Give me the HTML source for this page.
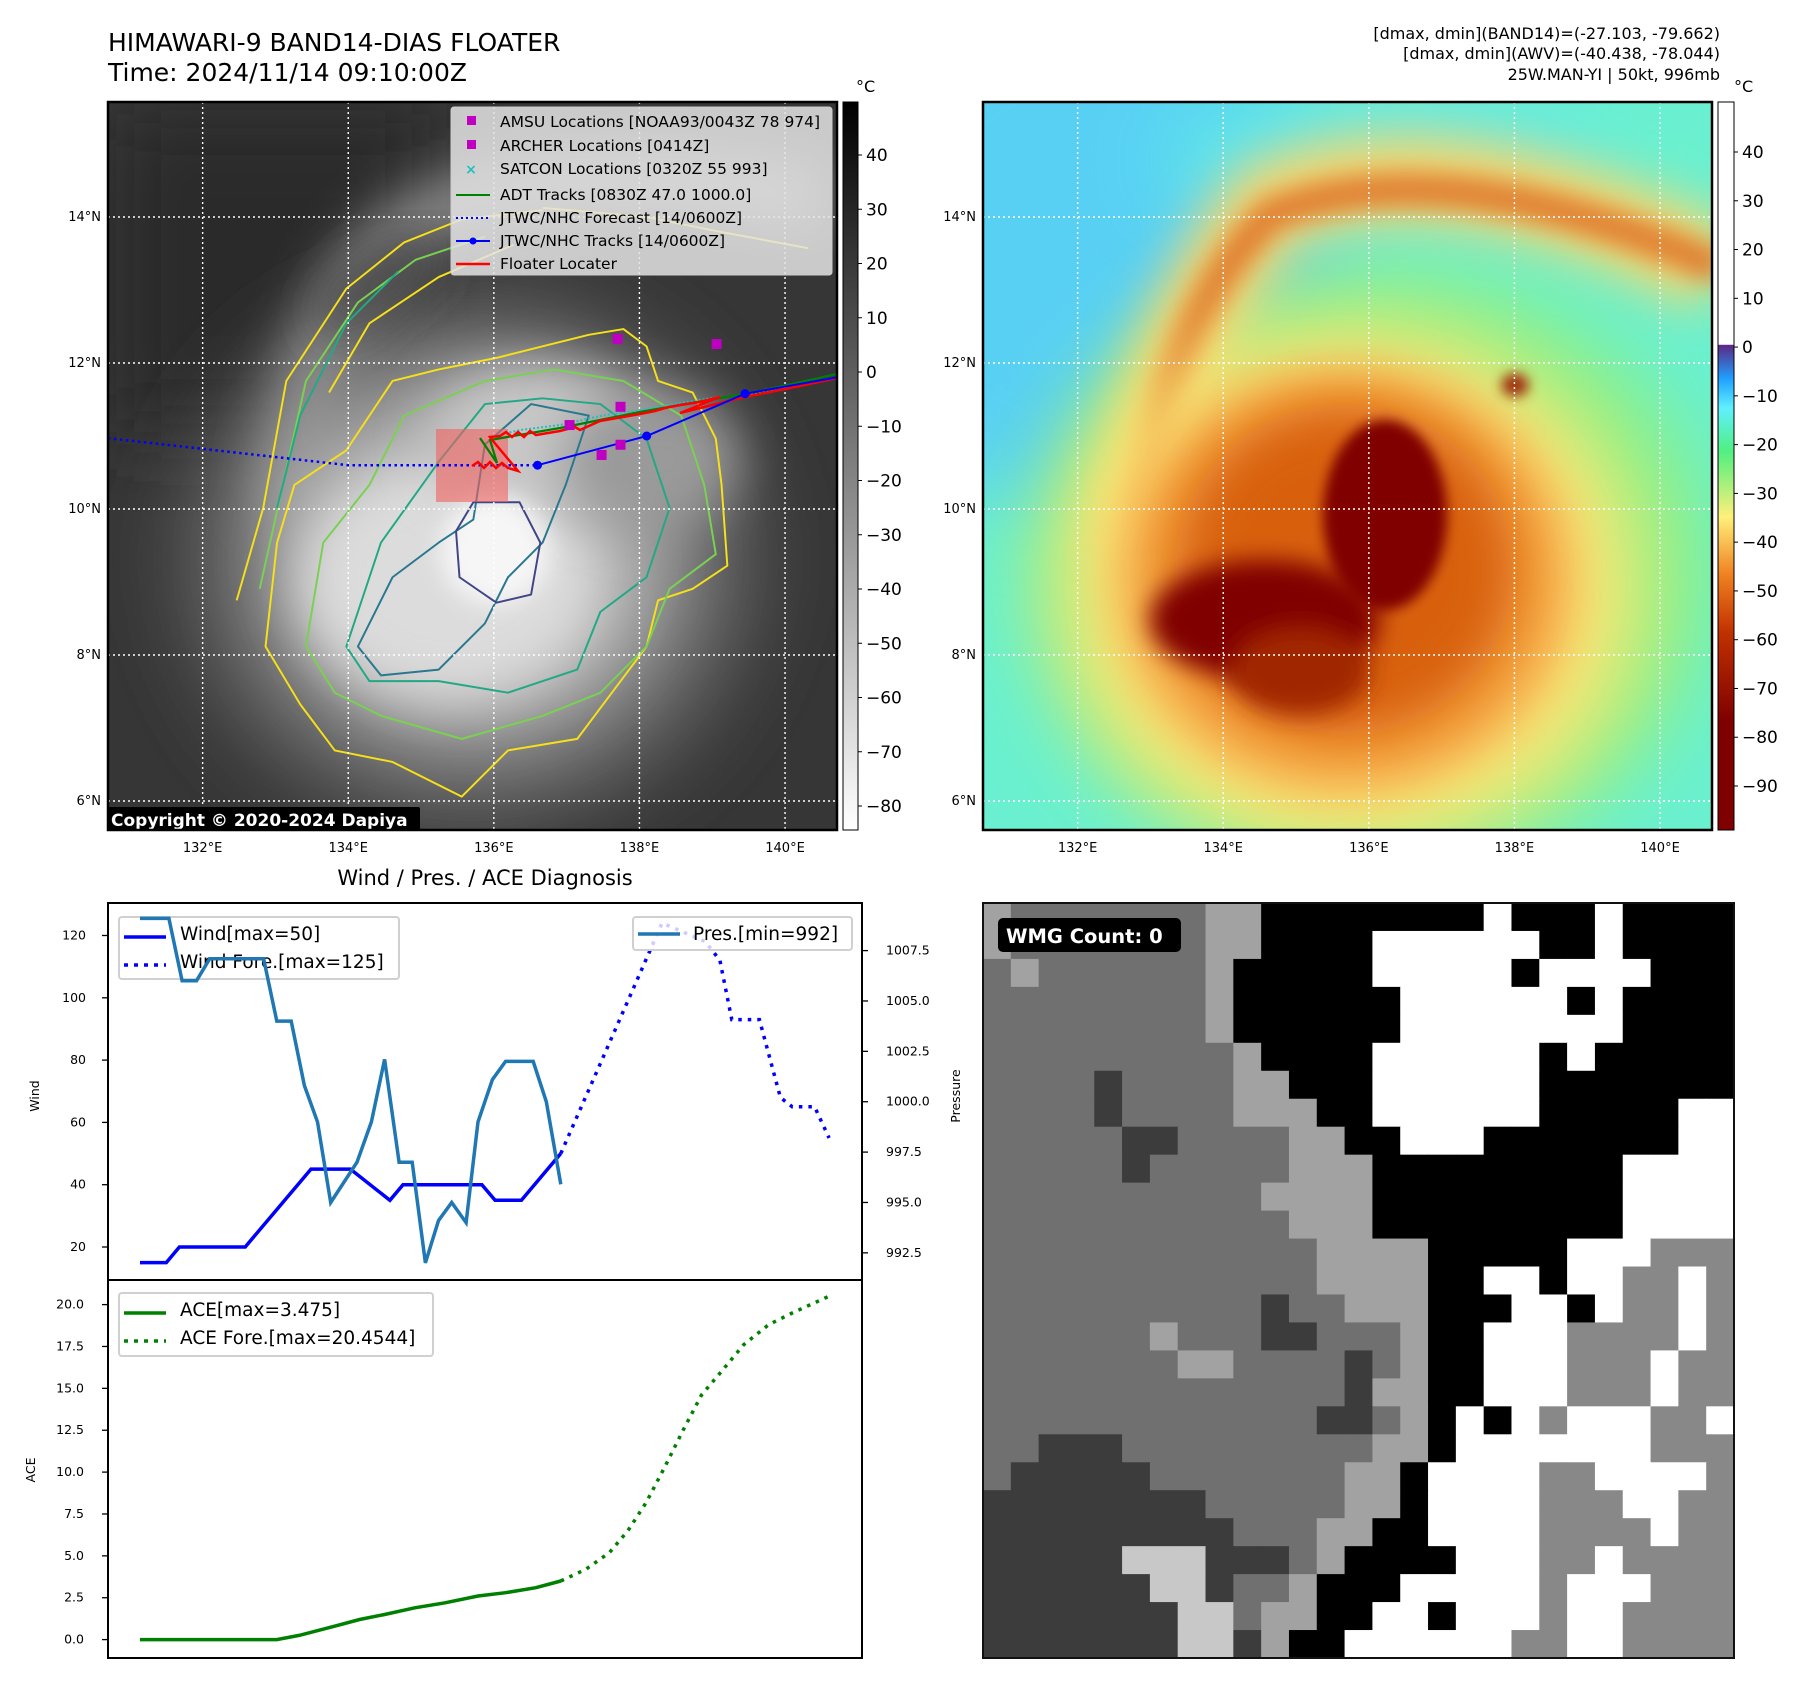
<!DOCTYPE html>
<html><head><meta charset="utf-8">
<style>
html,body{margin:0;padding:0;background:#fff;}
svg text{font-family:"DejaVu Sans","Liberation Sans",sans-serif;}
</style></head>
<body>
<svg id="root" width="1801" height="1690" viewBox="0 0 1801 1690" xmlns="http://www.w3.org/2000/svg">
<defs>
  <filter id="b40" x="-50%" y="-50%" width="200%" height="200%"><feGaussianBlur stdDeviation="40"/></filter>
  <filter id="b25" x="-50%" y="-50%" width="200%" height="200%"><feGaussianBlur stdDeviation="25"/></filter>
  <filter id="b12" x="-50%" y="-50%" width="200%" height="200%"><feGaussianBlur stdDeviation="12"/></filter>
  <filter id="b6" x="-50%" y="-50%" width="200%" height="200%"><feGaussianBlur stdDeviation="6"/></filter>
  <clipPath id="clipL"><rect x="108" y="102" width="729" height="728"/></clipPath>
  <clipPath id="clipR"><rect x="983" y="102" width="729" height="728"/></clipPath>
  <linearGradient id="cbGray" x1="0" y1="1" x2="0" y2="0">
    <stop offset="0" stop-color="#ffffff"/><stop offset="1" stop-color="#000000"/>
  </linearGradient>
  <linearGradient id="cbColor" x1="0" y1="1" x2="0" y2="0">
    <stop offset="0" stop-color="#800000"/>
    <stop offset="0.15" stop-color="#800000"/>
    <stop offset="0.27" stop-color="#c03000"/>
    <stop offset="0.35" stop-color="#f08020"/>
    <stop offset="0.43" stop-color="#fff07a"/>
    <stop offset="0.52" stop-color="#50f080"/>
    <stop offset="0.58" stop-color="#60f0ff"/>
    <stop offset="0.62" stop-color="#20a0ff"/>
    <stop offset="0.665" stop-color="#5a2a88"/>
    <stop offset="0.666" stop-color="#5a2a88"/>
    <stop offset="0.667" stop-color="#ffffff"/>
    <stop offset="1" stop-color="#ffffff"/>
  </linearGradient>
</defs>

<!-- Titles -->
<text x="108" y="51" font-size="25" fill="#000">HIMAWARI-9 BAND14-DIAS FLOATER</text>
<text x="108" y="81" font-size="25" fill="#000">Time: 2024/11/14 09:10:00Z</text>
<text x="1720" y="39" font-size="16" text-anchor="end">[dmax, dmin](BAND14)=(-27.103, -79.662)</text>
<text x="1720" y="59" font-size="16" text-anchor="end">[dmax, dmin](AWV)=(-40.438, -78.044)</text>
<text x="1720" y="80" font-size="16" text-anchor="end">25W.MAN-YI | 50kt, 996mb</text>

<!-- LEFT MAP -->
<g clip-path="url(#clipL)">
  <rect x="108" y="102" width="729" height="728" fill="#363636"/>
  <rect x="108" y="102" width="330" height="330" fill="#2c2c2c" filter="url(#b40)"/>
  <ellipse cx="470" cy="560" rx="290" ry="270" fill="#5e5e5e" filter="url(#b40)"/>
  <path d="M290 520 Q300 300 420 220 Q560 150 820 200" stroke="#8a8a8a" stroke-width="60" fill="none" filter="url(#b25)"/>
  <path d="M330 330 Q360 280 430 250" stroke="#444" stroke-width="50" fill="none" filter="url(#b25)"/>
  <ellipse cx="470" cy="560" rx="210" ry="190" fill="#b0b0b0" filter="url(#b40)"/>
  <ellipse cx="450" cy="580" rx="150" ry="120" fill="#dcdcdc" filter="url(#b25)"/>
  <ellipse cx="540" cy="440" rx="110" ry="75" fill="#c8c8c8" filter="url(#b25)"/>
  <ellipse cx="495" cy="550" rx="55" ry="55" fill="#f6f6f6" filter="url(#b12)"/>
  <ellipse cx="650" cy="460" rx="90" ry="70" fill="#9a9a9a" filter="url(#b25)"/>
  <g transform="scale(1.1545)" fill="none" stroke-width="1.7" stroke-linejoin="round">
    <polygon stroke="#f5e01a" points="230,560 240,470 255,420 300,390 340,330 380,320 430,310 470,300 510,290 540,285 560,300 570,330 600,340 620,380 625,420 630,490 600,510 570,520 560,560 530,600 500,640 440,650 400,690 340,660 290,650 260,610"/>
    <polygon stroke="#7ad151" points="265,560 280,470 320,420 350,360 420,330 480,320 540,330 590,360 610,420 620,480 580,510 560,560 520,600 470,620 400,640 330,620 290,600"/>
    <polygon stroke="#22a884" points="300,560 330,470 380,400 420,350 470,345 520,350 560,380 580,440 560,500 520,530 500,580 440,600 380,590 320,590"/>
    <polygon stroke="#2a788e" points="310,560 340,500 380,470 410,450 420,385 460,350 510,360 490,420 470,470 440,500 420,540 380,580 330,585"/>
    <polygon stroke="#414487" points="395,460 410,435 450,435 468,470 460,515 430,522 398,500"/>
    <polyline stroke="#f5e01a" points="205,520 228,440 248,330 300,250 350,210 400,190 470,182"/>
    <polyline stroke="#7ad151" points="225,510 245,420 265,330 310,262 360,225 420,205"/>
    <polyline stroke="#f5e01a" points="285,340 320,280 380,240 445,212"/>
    <polyline stroke="#22a884" points="240,440 260,360 300,280 345,235"/>
    <polyline stroke="#f5e01a" points="470,180 560,188 620,200 700,215"/>
  </g>
  <g id="gridL" stroke="#fff" stroke-width="1.4" stroke-dasharray="2 3"></g>
  <rect x="436" y="429" width="72" height="73" fill="#f06060" fill-opacity="0.6"/>
  <g id="tracks"></g>
  <rect x="108" y="807" width="312" height="25" fill="#000" rx="2"/>
  <text x="111" y="826" font-size="17" font-weight="bold" fill="#fff">Copyright © 2020-2024 Dapiya</text>
</g>
<rect x="108" y="102" width="729" height="728" fill="none" stroke="#000" stroke-width="2.5"/>

<!-- legend left map -->
<g>
  <rect x="451" y="107" width="381" height="168" rx="3" fill="#e4e4e4" fill-opacity="0.85" stroke="#ccc"/>
  <rect x="467" y="116" width="9" height="9" fill="#c000c0"/>
  <text x="500" y="127" font-size="15.5">AMSU Locations [NOAA93/0043Z 78 974]</text>
  <rect x="467" y="140" width="9" height="9" fill="#c000c0"/>
  <text x="500" y="151" font-size="15.5">ARCHER Locations [0414Z]</text>
  <text x="471" y="174" font-size="14" fill="#1fc0c0" text-anchor="middle" font-weight="bold">×</text>
  <text x="500" y="174" font-size="15.5">SATCON Locations [0320Z 55 993]</text>
  <line x1="456" y1="195" x2="490" y2="195" stroke="#008000" stroke-width="2"/>
  <text x="500" y="200" font-size="15.5">ADT Tracks [0830Z 47.0 1000.0]</text>
  <line x1="456" y1="218" x2="490" y2="218" stroke="#0000ff" stroke-width="2" stroke-dasharray="2 3"/>
  <text x="500" y="223" font-size="15.5">JTWC/NHC Forecast [14/0600Z]</text>
  <line x1="456" y1="241" x2="490" y2="241" stroke="#0000ff" stroke-width="2"/><circle cx="473" cy="241" r="3.5" fill="#0000ff"/>
  <text x="500" y="246" font-size="15.5">JTWC/NHC Tracks [14/0600Z]</text>
  <line x1="456" y1="264" x2="490" y2="264" stroke="#ff0000" stroke-width="2.5"/>
  <text x="500" y="269" font-size="15.5">Floater Locater</text>
</g>

<rect x="843" y="102" width="15" height="728" fill="url(#cbGray)" stroke="#000" stroke-width="1"/>
<text x="856" y="92" font-size="16">°C</text>
<g id="cbTicksL"></g>

<!-- RIGHT MAP -->
<g clip-path="url(#clipR)">
  <rect x="983" y="102" width="729" height="728" fill="#6af0d0"/>
  <ellipse cx="1080" cy="250" rx="260" ry="260" fill="#58d0f4" filter="url(#b40)"/>
  <ellipse cx="1380" cy="160" rx="220" ry="70" fill="#60e8e8" filter="url(#b40)"/>
  <ellipse cx="1370" cy="570" rx="340" ry="300" fill="#8cf080" filter="url(#b40)"/>
  <path d="M1137 560 Q1160 330 1270 205 Q1440 130 1720 271" stroke="#f6d870" stroke-width="90" fill="none" filter="url(#b25)"/>
  <path d="M1145 520 Q1165 320 1270 215 Q1440 145 1720 268" stroke="#e08030" stroke-width="34" fill="none" filter="url(#b12)"/>
  <ellipse cx="1350" cy="590" rx="290" ry="265" fill="#fbe878" filter="url(#b40)"/>
  <ellipse cx="1345" cy="580" rx="225" ry="210" fill="#f4a040" filter="url(#b25)"/>
  <ellipse cx="1345" cy="570" rx="170" ry="165" fill="#d86010" filter="url(#b25)"/>
  <ellipse cx="1385" cy="515" rx="62" ry="95" fill="#800000" filter="url(#b6)"/>
  <ellipse cx="1265" cy="620" rx="115" ry="60" fill="#800000" filter="url(#b12)"/>
  <ellipse cx="1300" cy="670" rx="70" ry="45" fill="#a02800" filter="url(#b12)"/>
  <ellipse cx="1515" cy="385" rx="14" ry="12" fill="#a03010" filter="url(#b6)"/>
  <g id="gridR" stroke="#fff" stroke-width="1.4" stroke-dasharray="2 3"></g>
</g>
<rect x="983" y="102" width="729" height="728" fill="none" stroke="#000" stroke-width="2.5"/>
<rect x="1718" y="102" width="16" height="728" fill="url(#cbColor)" stroke="#000" stroke-width="1"/>
<text x="1734" y="92" font-size="16">°C</text>
<g id="cbTicksR"></g>

<!-- CHART -->
<text x="485" y="885" font-size="21" text-anchor="middle">Wind / Pres. / ACE Diagnosis</text>
<g id="chart"></g>

<g id="wmg"></g>
<rect x="983" y="903" width="751" height="755" fill="none" stroke="#111" stroke-width="2"/>
<rect x="998" y="918" width="183" height="34" rx="5" fill="#000"/>
<text x="1006" y="943" font-size="19.5" font-weight="bold" fill="#fff">WMG Count: 0</text>
</svg>

<script>
// ===== chart data =====
const windObsX = [0,2,3,8,13,16,19,20,26,27,29,32];
const windObs  = [15,15,20,20,45,45,35,40,40,35,35,50];
const windForeX = [32,39.7,43,44.1,45,47.1,48.7,49.6,51.3,52.4];
const windFore  = [50,124,118,112,93,93,68,65,65,55];
const presX = [0,2.2,3.2,4.3,5.3,9.4,10.4,11.5,12.5,13.5,14.5,16.5,17.6,18.6,19.7,20.7,21.7,22.7,23.7,24.8,25.7,26.8,27.8,29.9,30.9,32];
const pres  = [1009.1,1009.1,1006.0,1006.0,1007.1,1007.1,1004.0,1004.0,1000.8,999.0,995.0,997.0,999.0,1002.1,997.0,997.0,992.0,994.1,995.0,994.0,999.0,1001.1,1002.0,1002.0,1000.0,995.9];
const aceObsX = [0,10.4,12.1,14.8,16.7,18.6,20.9,23.2,25.7,27.8,30.1,32];
const aceObs  = [0,0,0.25,0.8,1.2,1.5,1.9,2.2,2.6,2.8,3.1,3.5];
const aceForeX = [32,33.9,35.7,37.1,38.5,39.9,41.3,42.7,44.1,45.9,47.8,49.6,52.4];
const aceFore  = [3.5,4.2,5.2,6.5,8.2,10.3,12.5,14.6,15.9,17.6,18.8,19.5,20.5];
const windTicks = [20,40,60,80,100,120];
const presTicks = [992.5,995.0,997.5,1000.0,1002.5,1005.0,1007.5];
const aceTicks = [0.0,2.5,5.0,7.5,10.0,12.5,15.0,17.5,20.0];
// ===== map data =====
const lonTicks = [132,134,136,138,140];
const latTicks = [6,8,10,12,14];
const fcstLon = [130.7,134.0,136.6];
const fcstLat = [10.97,10.6,10.6];
const trackLon = [136.6,138.1,139.45,140.7];
const trackLat = [10.6,11.0,11.58,11.8];
const amsuLon = [137.7,139.06,137.74,137.04,137.74,137.48];
const amsuLat = [12.33,12.26,11.4,11.15,10.88,10.74];
const cbLeftTicks = [40,30,20,10,0,-10,-20,-30,-40,-50,-60,-70,-80];
const cbRightTicks = [40,30,20,10,0,-10,-20,-30,-40,-50,-60,-70,-80,-90];

const NS = 'http://www.w3.org/2000/svg';
function mk(tag, attrs, parent){const e=document.createElementNS(NS,tag);for(const k in attrs)e.setAttribute(k,attrs[k]);if(parent)parent.appendChild(e);return e;}
function txt(s, attrs, parent){const e=mk('text',attrs,parent);e.textContent=s;return e;}

const xS = i => 140 + 13.15*i;
const yWind = w => 1247 - (w-20)*3.115;
const yPres = p => 950.6 + (1007.5-p)*20.15;
const yAce = a => 1639.6 - a*16.75;
const lonX = (lon, off) => 108 + off + (lon-130.7)*72.8;
const latY = lat => 217 + (14-lat)*73;

const chart = document.getElementById('chart');
function pts(xs, ys, fy){return xs.map((x,k)=>xS(x).toFixed(1)+','+fy(ys[k]).toFixed(1)).join(' ');}

const f1 = mk('rect',{x:108,y:903,width:754,height:377,fill:'none',stroke:'#000','stroke-width':2},chart);


const f2 = mk('rect',{x:108,y:1280,width:754,height:378,fill:'none',stroke:'#000','stroke-width':2},chart);



windTicks.forEach(v=>{const y=yWind(v);mk('line',{x1:102,y1:y,x2:108,y2:y,stroke:'#000','stroke-width':1.3},chart);
  const t=txt(String(v),{x:86,y:y+4,'font-size':12.5,'text-anchor':'end'},chart);
  
  });
presTicks.forEach(v=>{const y=yPres(v);mk('line',{x1:862,y1:y,x2:868,y2:y,stroke:'#000','stroke-width':1.3},chart);
  const t=txt(v.toFixed(1),{x:886,y:y+4,'font-size':12.5},chart);
  
  });
aceTicks.forEach(v=>{const y=yAce(v);mk('line',{x1:102,y1:y,x2:108,y2:y,stroke:'#000','stroke-width':1.3},chart);
  const t=txt(v.toFixed(1),{x:84,y:y+4,'font-size':12.5,'text-anchor':'end'},chart);
  
  });
let a1=txt('Wind',{x:0,y:0,'font-size':12.5,'text-anchor':'middle',transform:'translate(39,1096) rotate(-90)'},chart);


let a2=txt('Pressure',{x:0,y:0,'font-size':12.5,'text-anchor':'middle',transform:'translate(960,1096) rotate(-90)'},chart);


let a3=txt('ACE',{x:0,y:0,'font-size':12.5,'text-anchor':'middle',transform:'translate(35,1470) rotate(-90)'},chart);



const lg1=mk('rect',{x:119,y:917,width:280,height:62,rx:3,fill:'#fff',stroke:'#d0d0d0','stroke-width':2},chart);


mk('line',{x1:124,y1:937,x2:166,y2:937,stroke:'#0000ff','stroke-width':3.5},chart);
mk('line',{x1:124,y1:965,x2:166,y2:965,stroke:'#0000ff','stroke-width':3.5,'stroke-dasharray':'4 6'},chart);
txt('Wind[max=50]',{x:180,y:940,'font-size':18.5},chart);
txt('Wind Fore.[max=125]',{x:180,y:968,'font-size':18.5},chart);

const wl=mk('polyline',{points:pts(windObsX,windObs,yWind),fill:'none',stroke:'#0000ff','stroke-width':3.5},chart);


const wf=mk('polyline',{points:pts(windForeX,windFore,yWind),fill:'none',stroke:'#0000ff','stroke-width':3.5,'stroke-dasharray':'3.5 6'},chart);


const lg2=mk('rect',{x:633,y:917,width:219,height:33,rx:3,fill:'#fff','fill-opacity':0.8,stroke:'#d0d0d0','stroke-width':2},chart);


mk('line',{x1:638,y1:934,x2:680,y2:934,stroke:'#1f77b4','stroke-width':3.5},chart);
txt('Pres.[min=992]',{x:693,y:940,'font-size':18.5},chart);
const pl=mk('polyline',{points:pts(presX,pres,yPres),fill:'none',stroke:'#1f77b4','stroke-width':3.5},chart);



const al=mk('polyline',{points:pts(aceObsX,aceObs,yAce),fill:'none',stroke:'#008000','stroke-width':3.5},chart);


const af=mk('polyline',{points:pts(aceForeX,aceFore,yAce),fill:'none',stroke:'#008000','stroke-width':3.5,'stroke-dasharray':'3.5 6'},chart);


const lg3=mk('rect',{x:119,y:1293,width:314,height:63,rx:3,fill:'#fff',stroke:'#d0d0d0','stroke-width':2},chart);


mk('line',{x1:124,y1:1313,x2:166,y2:1313,stroke:'#008000','stroke-width':3.5},chart);
mk('line',{x1:124,y1:1341,x2:166,y2:1341,stroke:'#008000','stroke-width':3.5,'stroke-dasharray':'4 6'},chart);
txt('ACE[max=3.475]',{x:180,y:1316,'font-size':18.5},chart);
txt('ACE Fore.[max=20.4544]',{x:180,y:1344,'font-size':18.5},chart);

const root=document.getElementById('root');
[[document.getElementById('gridL'),0],[document.getElementById('gridR'),875]].forEach(([g,off])=>{
  lonTicks.forEach(l=>{const x=lonX(l,off);mk('line',{x1:x,y1:102,x2:x,y2:830},g);
    const t=txt(l+'°E',{x:x,y:852,'font-size':13,'text-anchor':'middle'},root);
    
    });
  latTicks.forEach(l=>{const y=latY(l);mk('line',{x1:108+off,y1:y,x2:837+off,y2:y},g);
    const t=txt(l+'°N',{x:101+off,y:y+4,'font-size':13,'text-anchor':'end'},root);
    
    });
});

const tr=document.getElementById('tracks');
const fc=mk('polyline',{points:fcstLon.map((l,k)=>lonX(l,0)+','+latY(fcstLat[k])).join(' '),fill:'none',stroke:'#0000ff','stroke-width':2.5,'stroke-dasharray':'2.5 3.5'},tr);


mk('polyline',{points:'490,437 520,430 560,425 600,416 640,410 680,403 720,397 685,412 750,395 800,386 837,378',fill:'none',stroke:'#1fc0c0','stroke-width':2,'stroke-dasharray':'2 2'},tr);
mk('polyline',{points:'480,438 497,463 490,440 560,428 640,412 760,391 837,374',fill:'none',stroke:'#008000','stroke-width':2.2},tr);
const fl=mk('polyline',{points:'472,466 478,462 484,468 490,462 496,468 502,463 508,468 518,471 493,441 490,437 500,436 506,432 512,437 518,432 524,437 530,431 536,435 560,431 575,427 580,430 600,421 640,414 655,411 665,408 680,405 700,402 720,397 680,413 740,398 790,388 837,378',fill:'none',stroke:'#ff0000','stroke-width':2.5},tr);


const tk=mk('polyline',{points:trackLon.map((l,k)=>lonX(l,0)+','+latY(trackLat[k])).join(' '),fill:'none',stroke:'#0000ff','stroke-width':2},tr);


trackLon.slice(0,3).forEach((l,k)=>{const c=mk('circle',{cx:lonX(l,0),cy:latY(trackLat[k]),r:4.5,fill:'#0000ff'},tr);
  
  });
amsuLon.forEach((l,k)=>{const r=mk('rect',{x:lonX(l,0)-5,y:latY(amsuLat[k])-5,width:10,height:10,fill:'#c000c0'},tr);
  
  });

cbLeftTicks.forEach(v=>{const y=155+(40-v)*5.425;mk('line',{x1:858,y1:y,x2:862,y2:y,stroke:'#000'},root);
  const t=txt(v<0?'\u2212'+(-v):String(v),{x:866,y:y+6,'font-size':17},root);
  
  });
cbRightTicks.forEach(v=>{const y=152+(40-v)*4.877;mk('line',{x1:1734,y1:y,x2:1738,y2:y,stroke:'#000'},root);
  const t=txt(v<0?'\u2212'+(-v):String(v),{x:1742,y:y+6,'font-size':17},root);
  
  });

const wmgRows = [
"LMMMMMMMLLKKKKKKKKWKKKWKKKK",
"LMMMMMMMLLKKKKWWWWWWKKWKKKK",
"MLMMMMMMLKKKKKWWWWWKWWWWKKK",
"MMMMMMMMLKKKKKKWWWWWWKWKKKK",
"MMMMMMMMLKKKKKKWWWWWWWWKKKK",
"MMMMMMMMMLKKKKWWWWWWKWKKKKK",
"MMMMDMMMMLLKKKWWWWWWKKKKKKK",
"MMMMDMMMMLLLKKWWWWWWKKKKKWW",
"MMMMMDDMMMMLLKKWWWKKKKKKKWW",
"MMMMMDMMMMMLLLKKKKKKKKKWWWW",
"MMMMMMMMMMLLLLKKKKKKKKKWWWW",
"MMMMMMMMMMMLLLKKKKKKKKKWWWW",
"MMMMMMMMMMMMLLLLKKKKKWWWGGG",
"MMMMMMMMMMMMLLLLKKWWKWWGGWG",
"MMMMMMMMMMDMMLLLKKKWWKWGGWG",
"MMMMMMLMMMDDMMMLKKWWWGGGGWG",
"MMMMMMMLLMMMMDMLKKWWWGGGWGG",
"MMMMMMMMMMMMMDLLKKWWWGGGWGG",
"MMMMMMMMMMMMDDMLKWKWGWWWGGW",
"MMDDDMMMMMMMMMLLKWWWWWWWGGG",
"MDDDDDMMMMMMMLLKWWWWGGWWWWG",
"DDDDDDDDMMMMMLLKWWWWGGGWWGG",
"DDDDDDDDDMMMLLKKWWWWGGGGWGG",
"DDDDDSSSDDDMLKKKKWWWGGWGGGG",
"DDDDDDSSDMMLKKKWWWWWGWWWGGG",
"DDDDDDDSSMLLKKWWKWWWGWWGGGG",
"DDDDDDDSSDLKKWWWWWWGGWWGGGG"];
const wmgColors = {K:'#000000',W:'#ffffff',L:'#a2a2a2',M:'#707070',D:'#3c3c3c',G:'#888888',S:'#c8c8c8'};
const wmg=document.getElementById('wmg');
const cw=751/27, ch=755/27;
wmgRows.forEach((row,r)=>{for(let c=0;c<27;c++){const k=row[c]||'K';
  mk('rect',{x:(983+c*cw).toFixed(2),y:(903+r*ch).toFixed(2),width:(cw+0.6).toFixed(2),height:(ch+0.6).toFixed(2),fill:wmgColors[k]},wmg);}});
</script>
</body></html>
